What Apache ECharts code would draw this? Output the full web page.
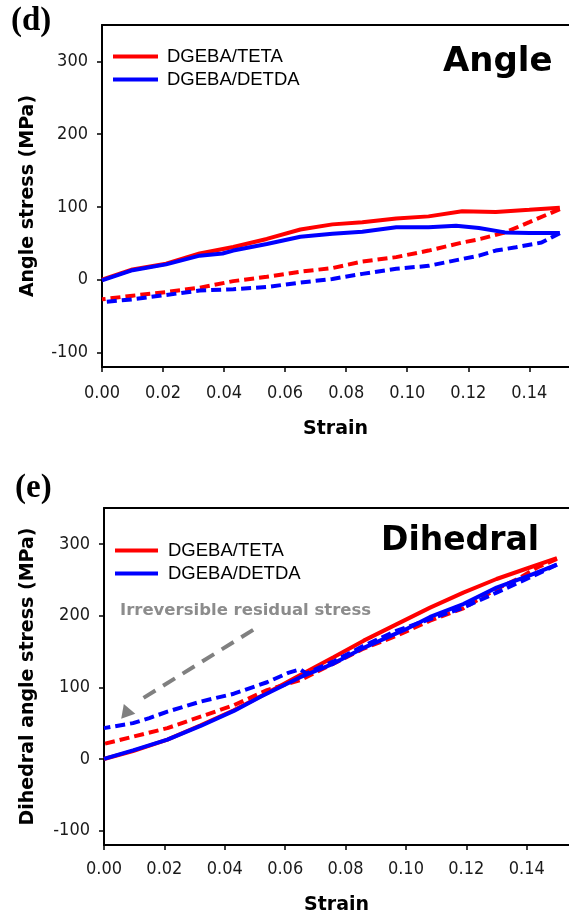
<!DOCTYPE html>
<html>
<head>
<meta charset="utf-8">
<script src="https://cdn.jsdelivr.net/npm/echarts@6/dist/echarts.min.js"></script>
<style>html,body{margin:0;padding:0;background:#fff}#c{width:569px;height:921px}</style>
</head>
<body>
<div id="c"></div>
<script>
// ---- tick labels ----
var strainTicks = [0, 0.02, 0.04, 0.06, 0.08, 0.10, 0.12, 0.14];
var stressTicks = [-100, 0, 100, 200, 300];
var legendNames = ['DGEBA/TETA', 'DGEBA/DETDA'];

// ---- (d) Angle: [strain, stress MPa] ----
var angleTetaLoad = [[0,0],[0.010,14],[0.021,22],[0.032,36],[0.043,45],[0.054,56],[0.065,69],[0.0755,76],[0.0853,79],[0.0964,84],[0.107,87],[0.118,94],[0.129,93],[0.140,96],[0.150,99]];
var angleTetaUnload = [[0.150,97],[0.140,79],[0.132,65],[0.124,56],[0.118,51],[0.107,40],[0.0964,31],[0.0853,25],[0.0755,16],[0.065,11],[0.054,4],[0.043,-2],[0.032,-11],[0.021,-17],[0.010,-22],[0,-27]];
var angleDetdaLoad = [[0,-1],[0.010,13],[0.021,21],[0.032,33],[0.0395,36],[0.043,40],[0.054,49],[0.065,59],[0.0755,63],[0.0853,66],[0.0964,72],[0.107,72],[0.116,74],[0.1235,71],[0.132,65],[0.140,64],[0.150,64]];
var angleDetdaUnload = [[0.150,64],[0.144,51],[0.1356,44.5],[0.129,40],[0.1235,33],[0.118,28.5],[0.107,19],[0.0964,15],[0.0853,8],[0.0755,1],[0.065,-4],[0.054,-10],[0.043,-13],[0.032,-15],[0.021,-21],[0.010,-27],[0,-31]];

// ---- (e) Dihedral: [strain, stress MPa] ----
var dihTetaLoad = [[0,0],[0.0096,11],[0.021,27],[0.032,47],[0.043,68],[0.054,92],[0.065,117],[0.076,142],[0.086,165],[0.097,188],[0.108,211],[0.119,232],[0.130,251],[0.141,267],[0.150,280]];
var dihTetaUnload = [[0.150,279],[0.1435,267],[0.137,251],[0.130,237],[0.119,210],[0.108,193],[0.097,172],[0.086,154],[0.076,133],[0.065,110],[0.054,96],[0.043,75],[0.032,59],[0.021,43],[0.0096,31],[0,21]];
var dihDetdaLoad = [[0,0],[0.0096,12],[0.021,27],[0.032,46],[0.043,67],[0.052,87],[0.065,114],[0.076,133],[0.086,155],[0.100,181],[0.108,198],[0.119,216],[0.130,239],[0.141,256],[0.150,271]];
var dihDetdaUnload = [[0.150,271],[0.141,253],[0.130,232],[0.119,211],[0.108,195],[0.097,179],[0.086,158],[0.076,136],[0.070,125],[0.067,119],[0.065,125],[0.061,120],[0.054,107],[0.043,91],[0.032,80],[0.021,66],[0.015,57],[0.0096,50],[0,43]];

// annotation arrow (data coords)
var arrowFrom = [0.0494, 180];
var arrowTo = [0.0119, 82];
var arrowHead = [0.0073, 68];

var RED = '#ff0000', BLUE = '#0000ff';
var tickFont = {fontFamily: 'DejaVu Sans Condensed, DejaVu Sans', fontSize: 18, color: '#1a1a1a'};
var nameFont = {fontFamily: 'DejaVu Sans', fontWeight: 'bold', fontSize: 19, color: '#000'};

function xAxisFor(gi, max, margin, gap) {
  return [{
    type: 'value', gridIndex: gi, min: 0, max: max,
    name: 'Strain', nameLocation: 'middle', nameGap: gap, nameTextStyle: nameFont,
    axisLine: {show: true, onZero: false, lineStyle: {color: '#000', width: 2}},
    axisTick: {show: true, length: 5, customValues: strainTicks, lineStyle: {color: '#000', width: 1.5}},
    axisLabel: Object.assign({margin: margin, customValues: strainTicks, formatter: function (v) { return v.toFixed(2); }}, tickFont),
    splitLine: {show: false}
  }, {
    type: 'value', gridIndex: gi, min: 0, max: max, position: 'top',
    axisLine: {show: true, onZero: false, lineStyle: {color: '#000', width: 2}},
    axisTick: {show: false}, axisLabel: {show: false}, splitLine: {show: false}
  }];
}
function yAxisFor(gi, name, gap) {
  return {
    type: 'value', gridIndex: gi, min: -120, max: 350,
    name: name, nameLocation: 'middle', nameGap: gap, nameTextStyle: nameFont,
    axisLine: {show: true, onZero: false, lineStyle: {color: '#000', width: 2}},
    axisTick: {show: true, length: 5, customValues: stressTicks, lineStyle: {color: '#000', width: 1.5}},
    axisLabel: Object.assign({margin: 14, customValues: stressTicks}, tickFont),
    splitLine: {show: false}
  };
}
function lineSeries(name, data, color, dashed, xi, yi) {
  return {
    type: 'line', name: name, data: data, xAxisIndex: xi, yAxisIndex: yi,
    showSymbol: false, symbol: 'none', animation: false, silent: true,
    lineStyle: {color: color, width: 4, type: dashed ? [10, 5] : 'solid'},
    itemStyle: {color: color}
  };
}

var xs = xAxisFor(0, 0.153, 17, 53).concat(xAxisFor(1, 0.154, 15, 51));

var detdaUnloadBottom = lineSeries('DGEBA/DETDA unloading', dihDetdaUnload, BLUE, true, 2, 1);
detdaUnloadBottom.markLine = {
  silent: true, symbol: ['none', 'none'], animation: false,
  lineStyle: {color: '#808080', width: 4, type: [14, 9]},
  label: {show: false},
  data: [[{coord: arrowFrom}, {coord: arrowTo}]]
};
detdaUnloadBottom.markPoint = {
  silent: true, animation: false, symbol: 'triangle', symbolSize: [15, 13], symbolRotate: 20,
  itemStyle: {color: '#808080'}, label: {show: false},
  data: [{coord: arrowHead}]
};

var option = {
  backgroundColor: '#fff',
  animation: false,
  grid: [
    {left: 102, right: 0, top: 25, height: 342, containLabel: false},
    {left: 104, right: 0, top: 508, height: 337, containLabel: false}
  ],
  xAxis: xs,
  yAxis: [yAxisFor(0, 'Angle stress (MPa)', 64), yAxisFor(1, 'Dihedral angle stress (MPa)', 66)],
  legend: [
    {data: legendNames, orient: 'vertical', left: 113, top: 47, padding: 0, itemGap: 4,
     icon: 'rect', itemWidth: 45, itemHeight: 4, selectedMode: false,
     textStyle: {fontFamily: 'Liberation Sans', fontSize: 18.5, color: '#000', lineHeight: 18, padding: [0, 0, 0, 4]}},
    {data: legendNames, orient: 'vertical', left: 115, top: 541, padding: 0, itemGap: 4,
     icon: 'rect', itemWidth: 43, itemHeight: 4, selectedMode: false,
     textStyle: {fontFamily: 'Liberation Sans', fontSize: 18.5, color: '#000', lineHeight: 18, padding: [0, 0, 0, 5]}}
  ],
  graphic: [
    {type: 'text', left: 11, top: 5, style: {text: '(d)', font: 'bold 33px "Liberation Serif"', fill: '#000'}},
    {type: 'text', left: 15, top: 472, style: {text: '(e)', font: 'bold 33px "Liberation Serif"', fill: '#000'}},
    {type: 'text', x: 443, y: 62, style: {text: 'Angle', font: 'bold 34px "DejaVu Sans"', fill: '#000', verticalAlign: 'middle'}},
    {type: 'text', x: 381, y: 541, style: {text: 'Dihedral', font: 'bold 33px "DejaVu Sans"', fill: '#000', verticalAlign: 'middle'}},
    {type: 'text', x: 120, y: 611, style: {text: 'Irreversible residual stress', font: 'bold 16.5px "DejaVu Sans"', fill: '#8c8c8c', verticalAlign: 'middle'}}
  ],
  series: [
    lineSeries('DGEBA/TETA', angleTetaLoad, RED, false, 0, 0),
    lineSeries('DGEBA/TETA unloading', angleTetaUnload, RED, true, 0, 0),
    lineSeries('DGEBA/DETDA', angleDetdaLoad, BLUE, false, 0, 0),
    lineSeries('DGEBA/DETDA unloading', angleDetdaUnload, BLUE, true, 0, 0),
    lineSeries('DGEBA/TETA', dihTetaLoad, RED, false, 2, 1),
    lineSeries('DGEBA/TETA unloading', dihTetaUnload, RED, true, 2, 1),
    lineSeries('DGEBA/DETDA', dihDetdaLoad, BLUE, false, 2, 1),
    detdaUnloadBottom
  ]
};
var chart = echarts.init(document.getElementById('c'), null, {renderer: 'canvas'});
chart.setOption(option);
</script>
</body>
</html>
